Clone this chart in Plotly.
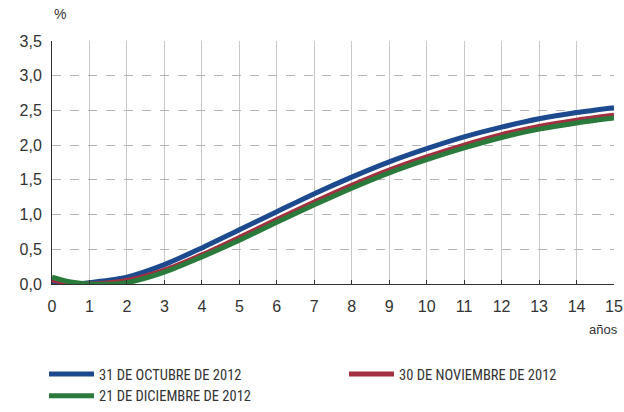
import plotly.graph_objects as go

years = [0, 0.5, 1, 2, 3, 4, 5, 6, 7, 8, 9, 10, 11, 12, 13, 14, 15]
oct_2012 = [0.03, -0.01, 0.02, 0.10, 0.28, 0.52, 0.78, 1.04, 1.30, 1.54, 1.76, 1.95, 2.12, 2.26, 2.38, 2.47, 2.54]
nov_2012 = [0.06, 0.01, 0.00, 0.05, 0.20, 0.42, 0.67, 0.93, 1.18, 1.42, 1.64, 1.83, 2.00, 2.15, 2.27, 2.36, 2.43]
dic_2012 = [0.10, 0.03, 0.00, 0.02, 0.17, 0.39, 0.63, 0.89, 1.14, 1.38, 1.60, 1.79, 1.96, 2.11, 2.23, 2.32, 2.39]

names = ["31 DE OCTUBRE DE 2012", "30 DE NOVIEMBRE DE 2012", "21 DE DICIEMBRE DE 2012"]
colors = ["#1d4a8f", "#a23041", "#2a7a3c"]
series = [oct_2012, nov_2012, dic_2012]

fig = go.Figure()
for n, c, s in zip(names, colors, series):
    fig.add_trace(go.Scatter(x=years, y=s, name=n, mode="lines",
                             line=dict(color=c, width=5, shape="spline", smoothing=0.8),
                             cliponaxis=True))

fig.update_layout(
    width=624, height=412,
    margin=dict(l=52, r=10, t=41, b=128, autoexpand=False),
    paper_bgcolor="white", plot_bgcolor="white",
    separators=",.",
    font=dict(family="Liberation Sans, Arial, sans-serif", color="#333333", size=16),
    showlegend=True,
    legend=dict(orientation="h", xref="paper", yref="paper",
                x=-8 / 562, y=-(358 - 284) / 243, xanchor="left", yanchor="top",
                entrywidth=240, entrywidthmode="pixels",
                font=dict(size=14.5, color="#333333",
                          family="Liberation Sans Narrow, Roboto Condensed, Liberation Sans, sans-serif"),
                tracegroupgap=0, itemwidth=45),
    xaxis=dict(range=[0, 15], tickmode="linear", dtick=1, tick0=0,
               showgrid=True, gridcolor="#c8c8c8", gridwidth=1,
               showline=True, linecolor="#333333", linewidth=1,
               ticks="inside", ticklen=4, tickcolor="#333333",
               zeroline=False, ticklabelstandoff=8, automargin=False),
    yaxis=dict(range=[0, 3.5], tickmode="linear", dtick=0.5, tick0=0,
               tickformat=".1f",
               showgrid=True, gridcolor="#b4b4b4", griddash="dash", gridwidth=1,
               showline=True, linecolor="#333333", linewidth=1,
               ticks="", zeroline=False, ticklabelstandoff=6, automargin=False),
    annotations=[
        dict(text="%", xref="paper", yref="paper", x=0.015, y=1.07,
             xanchor="center", yanchor="bottom", showarrow=False,
             font=dict(size=14, color="#333333")),
        dict(text="años", xref="paper", yref="paper", x=1.01, y=-0.15,
             xanchor="right", yanchor="top", showarrow=False,
             font=dict(size=13, color="#333333")),
    ],
)

fig.write_html("out.html", config={"displayModeBar": False},
               post_script="document.body.style.margin='0';")
